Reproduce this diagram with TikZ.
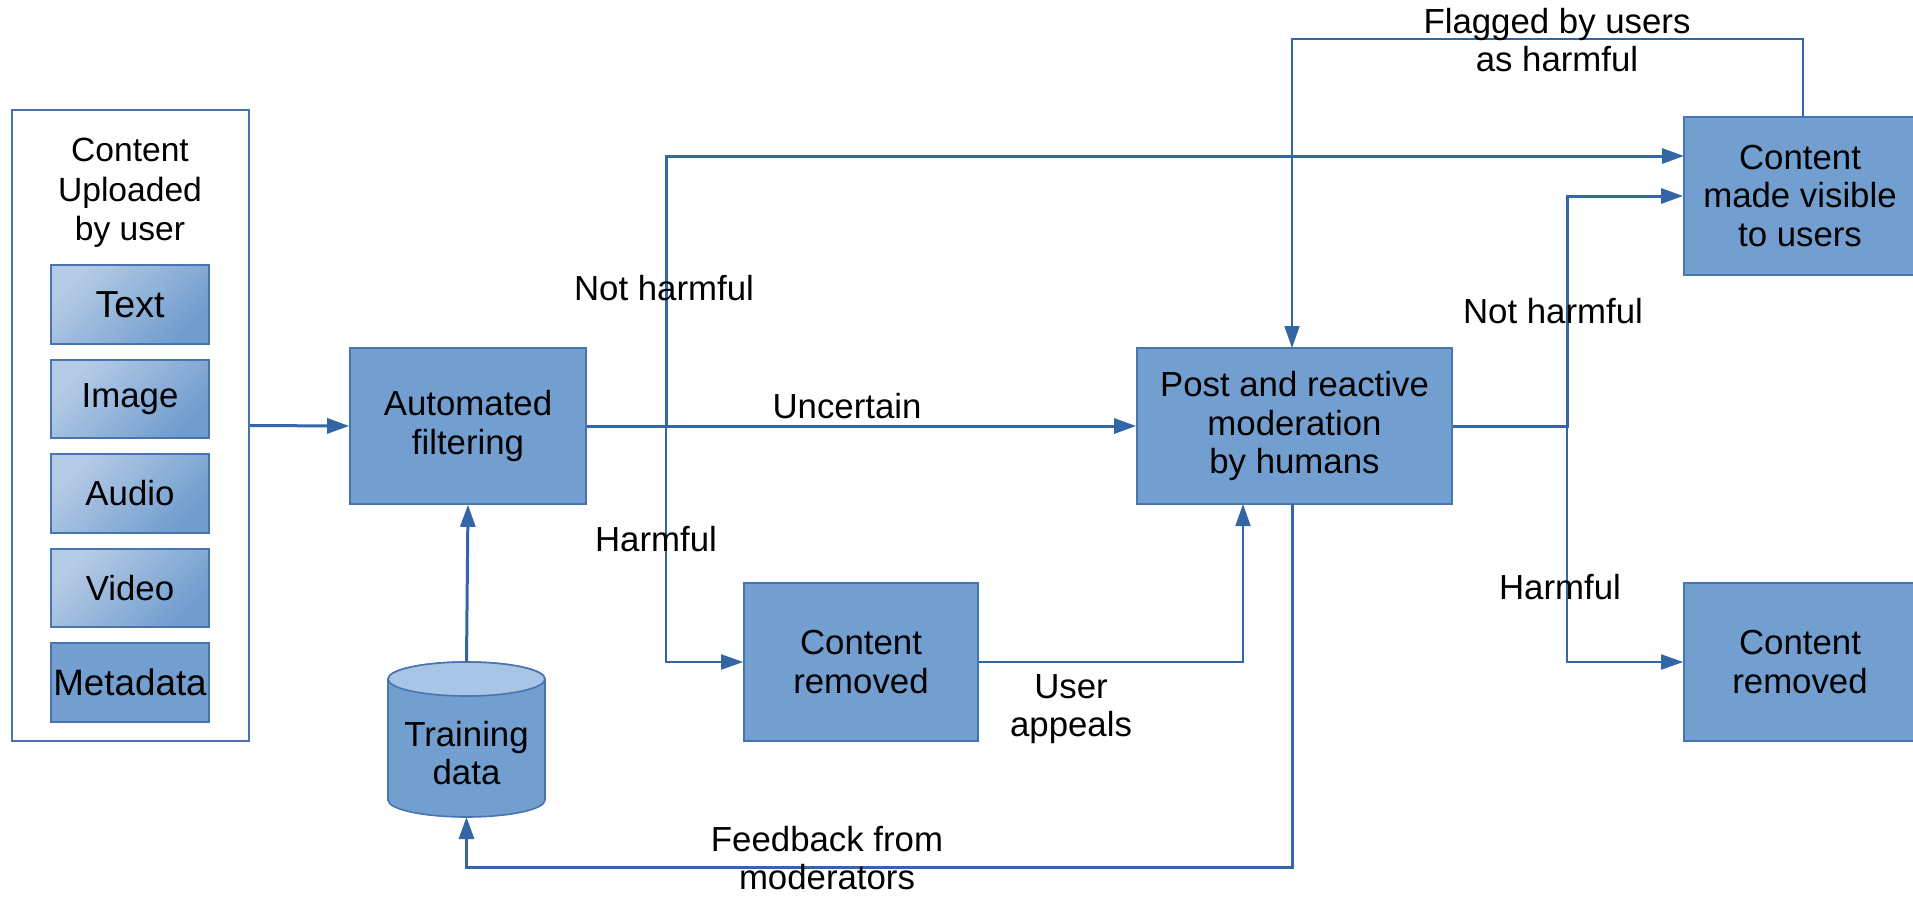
\documentclass[tikz,border=0pt]{standalone}
\usepackage{fontspec}
\setmainfont{Liberation Sans}
\usetikzlibrary{arrows.meta,calc}
\definecolor{lineblue}{RGB}{52,101,164}
\definecolor{boxfill}{RGB}{114,159,207}
\definecolor{boxdraw}{RGB}{72,116,178}
\definecolor{gradlight}{RGB}{182,204,230}
\definecolor{graddark}{RGB}{112,156,206}
\definecolor{toplight}{RGB}{168,197,229}
\newcommand\mkbox[7]{\node[#6, minimum width={(#4-#2)*0.5pt}, minimum height={(#5-#3)*0.5pt}] (#1) at ({(#2+#4)/2},{(#3+#5)/2}) {#7};}
\begin{document}
\begin{tikzpicture}[x=0.5pt,y=-0.5pt,
  txt/.style={font=\fontsize{17.4}{19.3}\selectfont, align=center, inner sep=0pt},
  box/.style={txt, draw=boxdraw, line width=0.8pt, fill=boxfill},
  outerbox/.style={draw=boxdraw, line width=0.8pt, fill=white, inner sep=0pt},
  media/.style={txt, draw=boxdraw, line width=0.7pt, top color=gradlight, bottom color=graddark, shading angle=45},
  conn/.style={draw=lineblue, line width=1.5pt},
  thinconn/.style={draw=lineblue, line width=0.9pt},
  tip/.style={-{Triangle[length=11pt,width=7.5pt]}},
  lbl/.style={txt}
]
\useasboundingbox (0,0) rectangle (1913,896);

% upload box
\mkbox{upload}{12}{110}{249}{741}{outerbox}{}
\node[lbl, font=\fontsize{16.8}{19.8}\selectfont] (uptitle) at (130,193) {Content\\Uploaded\\by user};
\mkbox{mtext}{51}{265}{209}{344}{media, font=\fontsize{18.8}{20}\selectfont}{Text}
\mkbox{mimage}{51}{360}{209}{438}{media}{Image}
\mkbox{maudio}{51}{454}{209}{533}{media}{Audio}
\mkbox{mvideo}{51}{549}{209}{627}{media}{Video}
\mkbox{mmeta}{51}{643}{209}{722}{box, font=\fontsize{18.4}{20}\selectfont}{Metadata}

% main boxes
\mkbox{af}{350}{348}{586}{504}{box}{Automated\\filtering}
\mkbox{mod}{1137}{348}{1452}{504}{box}{Post and reactive\\moderation\\by humans}
\mkbox{cv}{1684}{117}{1916}{275}{box}{Content\\made visible\\to users}
\mkbox{crm}{744}{583}{978}{741}{box}{Content\\removed}
\mkbox{crr}{1684}{583}{1916}{741}{box}{Content\\removed}

% cylinder
\path[fill=boxfill, draw=boxdraw, line width=0.8pt] (388,679) -- (388,800)
  arc[start angle=180, end angle=360, x radius=39.25pt, y radius=8.5pt]
  -- (545,679)
  arc[start angle=0, end angle=180, x radius=39.25pt, y radius=8.5pt] -- cycle;
\path[fill=toplight, draw=boxdraw, line width=0.8pt] (466.5,679) ellipse[x radius=39.25pt, y radius=8.5pt];
\node[lbl] (train) at (466.5,753) {Training\\data};
\coordinate (traintop) at (466.5,662);
\coordinate (trainbot) at (466.5,817);

% coordinates
\coordinate (j1) at (666,426);
\coordinate (nhtop) at (666,156);
\coordinate (cvin1) at (1684,156);
\coordinate (hbot) at (666,662);
\coordinate (j2) at (1567,426);
\coordinate (j2up) at (1567,196);
\coordinate (j2dn) at (1567,662);
\coordinate (uaright) at (1243,662);
\coordinate (uain) at (1243,504);
\coordinate (flagout) at (1803,117);
\coordinate (flagtr) at (1803,39);
\coordinate (flagtl) at (1292,39);
\coordinate (flagin) at (1292,348);
\coordinate (fbout) at (1292,504);
\coordinate (fbr) at (1292,867);
\coordinate (fbl) at (466.5,867);

% connectors
\draw[conn,tip] (upload.east) -- (af.west);
\draw[conn,tip] (af.east) -- (mod.west);
\draw[conn,tip] (traintop) -- (af.south);
\draw[conn,tip] (j1) -- (nhtop) -- (cvin1);
\draw[thinconn,tip] (j1) -- (hbot) -- (crm.west);
\draw[thinconn,tip] (crm.east) -- (uaright) -- (uain);
\draw[conn,tip] (mod.east) -- (j2) -- (j2up) -- (cv.west);
\draw[thinconn,tip] (j2) -- (j2dn) -- (crr.west);
\draw[thinconn,tip] (flagout) -- (flagtr) -- (flagtl) -- (flagin);
\draw[conn,tip] (fbout) -- (fbr) -- (fbl) -- (trainbot);

% labels
\node[lbl] (l1) at (664,288) {Not harmful};
\node[lbl] (l2) at (847,406) {Uncertain};
\node[lbl] (l3) at (656,539) {Harmful};
\node[lbl] (l4) at (1553,311) {Not harmful};
\node[lbl] (l5) at (1560,587) {Harmful};
\node[lbl] (l6) at (1557,40) {Flagged by users\\as harmful};
\node[lbl] (l7) at (1071,709) {User\\appeals};
\node[lbl] (l8) at (827,858) {Feedback from\\moderators};
\end{tikzpicture}
\end{document}
